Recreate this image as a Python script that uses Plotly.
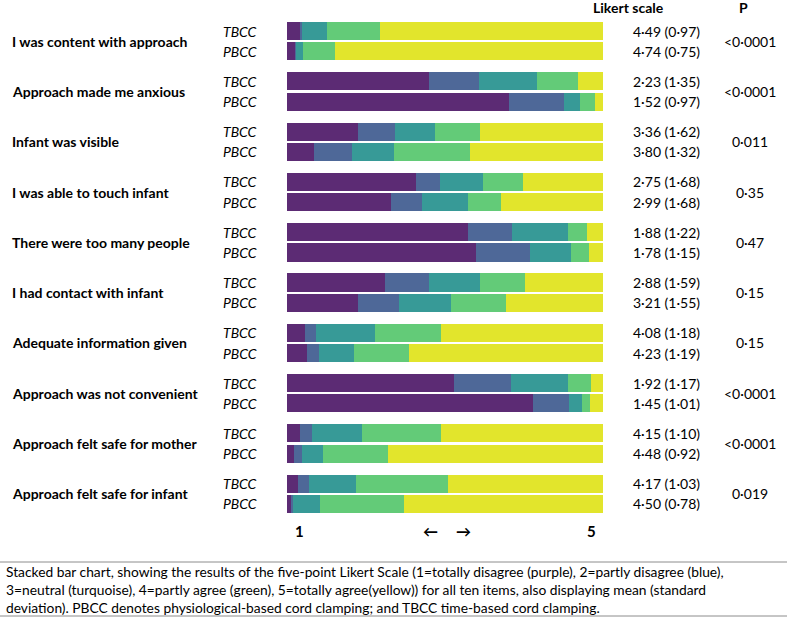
import plotly.graph_objects as go

# Likert items, top to bottom
items = ["I was content with approach", "Approach made me anxious", "Infant was visible",
         "I was able to touch infant", "There were too many people", "I had contact with infant",
         "Adequate information given", "Approach was not convenient",
         "Approach felt safe for mother", "Approach felt safe for infant"]

levels = ["1 totally disagree", "2 partly disagree", "3 neutral", "4 partly agree", "5 totally agree"]
level_colors = ["#5c2b74", "#4e6898", "#379a97", "#63cb78", "#e2e52c"]

# percentage of answers per level (1..5)
tbcc_pct = [
    [4.2, 0.6, 7.9, 16.6, 70.7],
    [44.8, 16.0, 18.4, 12.8, 8.0],
    [22.6, 11.7, 12.5, 14.2, 39.0],
    [40.7, 7.6, 13.6, 12.8, 25.3],
    [57.3, 14.0, 17.5, 6.1, 5.1],
    [31.1, 13.7, 16.4, 14.0, 24.8],
    [5.6, 3.5, 18.9, 20.6, 51.4],
    [52.7, 18.2, 18.1, 7.1, 3.9],
    [4.2, 3.6, 15.9, 24.9, 51.4],
    [3.6, 3.3, 14.9, 29.3, 48.9],
]
pbcc_pct = [
    [2.7, 0.3, 2.1, 10.0, 84.9],
    [70.3, 17.4, 5.1, 4.7, 2.5],
    [8.5, 12.1, 13.2, 24.0, 42.2],
    [32.9, 9.7, 14.8, 10.4, 32.2],
    [59.9, 16.9, 13.0, 5.8, 4.4],
    [22.4, 12.9, 16.7, 17.3, 30.7],
    [6.2, 3.8, 11.1, 17.4, 61.5],
    [77.8, 11.5, 4.0, 2.5, 4.2],
    [2.2, 2.6, 6.6, 20.7, 67.9],
    [1.2, 0.7, 8.4, 26.6, 63.1],
]

tbcc_mean_sd = ["4·49 (0·97)", "2·23 (1·35)", "3·36 (1·62)", "2·75 (1·68)", "1·88 (1·22)",
                "2·88 (1·59)", "4·08 (1·18)", "1·92 (1·17)", "4·15 (1·10)", "4·17 (1·03)"]
pbcc_mean_sd = ["4·74 (0·75)", "1·52 (0·97)", "3·80 (1·32)", "2·99 (1·68)", "1·78 (1·15)",
                "3·21 (1·55)", "4·23 (1·19)", "1·45 (1·01)", "4·48 (0·92)", "4·50 (0·78)"]
p_values = ["<0·0001", "<0·0001", "0·011", "0·35", "0·47", "0·15", "0·15", "<0·0001",
            "<0·0001", "0·019"]

caption = ("Stacked bar chart, showing the results of the five-point Likert Scale (1=totally disagree (purple), 2=partly disagree (blue),<br>"
           "3=neutral (turquoise), 4=partly agree (green), 5=totally agree(yellow)) for all ten items, also displaying mean (standard<br>"
           "deviation). PBCC denotes physiological-based cord clamping; and TBCC time-based cord clamping.")

FONT = "Lato"
W, H = 787, 617
ML, MR, MT, MB = 287, 184, 22, 104
GAP = 2.48   # distance between item groups (in bar units)
BARW = 0.89

n = len(items)
y_t = [i * GAP for i in range(n)]
y_p = [i * GAP + 1 for i in range(n)]

fig = go.Figure()
for k in range(5):
    fig.add_trace(go.Bar(
        x=[row[k] for row in tbcc_pct] + [row[k] for row in pbcc_pct],
        y=y_t + y_p,
        orientation="h",
        width=BARW,
        marker=dict(color=level_colors[k], line=dict(width=0)),
        name=levels[k],
        showlegend=False,
    ))


def px_x(px):
    return (px - ML) / (W - ML - MR)


def px_y(py):
    return 1 - (py - MT) / (H - MT - MB)


ann = []
for i in range(n):
    ann.append(dict(x=px_x(10), xref="paper", y=(y_t[i] + y_p[i]) / 2, yref="y",
                    text="<b>" + items[i] + "</b>", xanchor="left", showarrow=False,
                    font=dict(size=14, color="black")))
    ann.append(dict(x=px_x(221), xref="paper", y=y_t[i], yref="y", text="<i>TBCC</i>",
                    xanchor="left", showarrow=False, font=dict(size=14, color="black")))
    ann.append(dict(x=px_x(221), xref="paper", y=y_p[i], yref="y", text="<i>PBCC</i>",
                    xanchor="left", showarrow=False, font=dict(size=14, color="black")))
    ann.append(dict(x=px_x(666), xref="paper", y=y_t[i], yref="y", text=tbcc_mean_sd[i],
                    xanchor="center", showarrow=False, font=dict(size=14, color="black")))
    ann.append(dict(x=px_x(666), xref="paper", y=y_p[i], yref="y", text=pbcc_mean_sd[i],
                    xanchor="center", showarrow=False, font=dict(size=14, color="black")))
    ann.append(dict(x=px_x(750), xref="paper", y=(y_t[i] + y_p[i]) / 2, yref="y", text=p_values[i],
                    xanchor="center", showarrow=False, font=dict(size=14, color="black")))

# headers
ann.append(dict(x=px_x(666), xref="paper", y=px_y(8), yref="paper", text="<b>Likert scale</b>",
                yanchor="middle", showarrow=False, font=dict(size=14, color="black")))
ann.append(dict(x=px_x(750), xref="paper", y=px_y(8), yref="paper", text="<b>P</b>",
                yanchor="middle", showarrow=False, font=dict(size=14, color="black")))

# scale ends and arrows under the bars
for txt, xp in [("1", 293), ("←", 430), ("→", 463), ("5", 598)]:
    ann.append(dict(x=px_x(xp), xref="paper", y=px_y(531), yref="paper", text="<b>" + txt + "</b>",
                    yanchor="middle", showarrow=False, font=dict(size=15, color="black")))

ann.append(dict(x=px_x(4), xref="paper", y=px_y(589), yref="paper", text=caption,
                xanchor="left", yanchor="middle", align="left", showarrow=False,
                font=dict(size=13.8, color="black")))

fig.update_layout(
    barmode="stack",
    width=W, height=H,
    margin=dict(l=ML, r=MR, t=MT, b=MB),
    plot_bgcolor="white", paper_bgcolor="white",
    font=dict(family=FONT, color="black"),
    xaxis=dict(range=[0, 100], visible=False, fixedrange=True),
    yaxis=dict(range=[y_p[-1] + BARW / 2, -BARW / 2], visible=False, fixedrange=True),
    annotations=ann,
    bargap=0,
    shapes=[
        dict(type="line", xref="paper", yref="paper", x0=px_x(0), x1=px_x(W), y0=px_y(562), y1=px_y(562),
             line=dict(color="#8c8c8c", width=1)),
        dict(type="line", xref="paper", yref="paper", x0=px_x(0), x1=px_x(W), y0=px_y(616), y1=px_y(616),
             line=dict(color="#8c8c8c", width=1)),
    ],
)

# page has a default 8px body margin; drop it so the figure fills the window
fig.write_html("out.html", config={"displayModeBar": False},
               post_script="document.body.style.margin='0';")
